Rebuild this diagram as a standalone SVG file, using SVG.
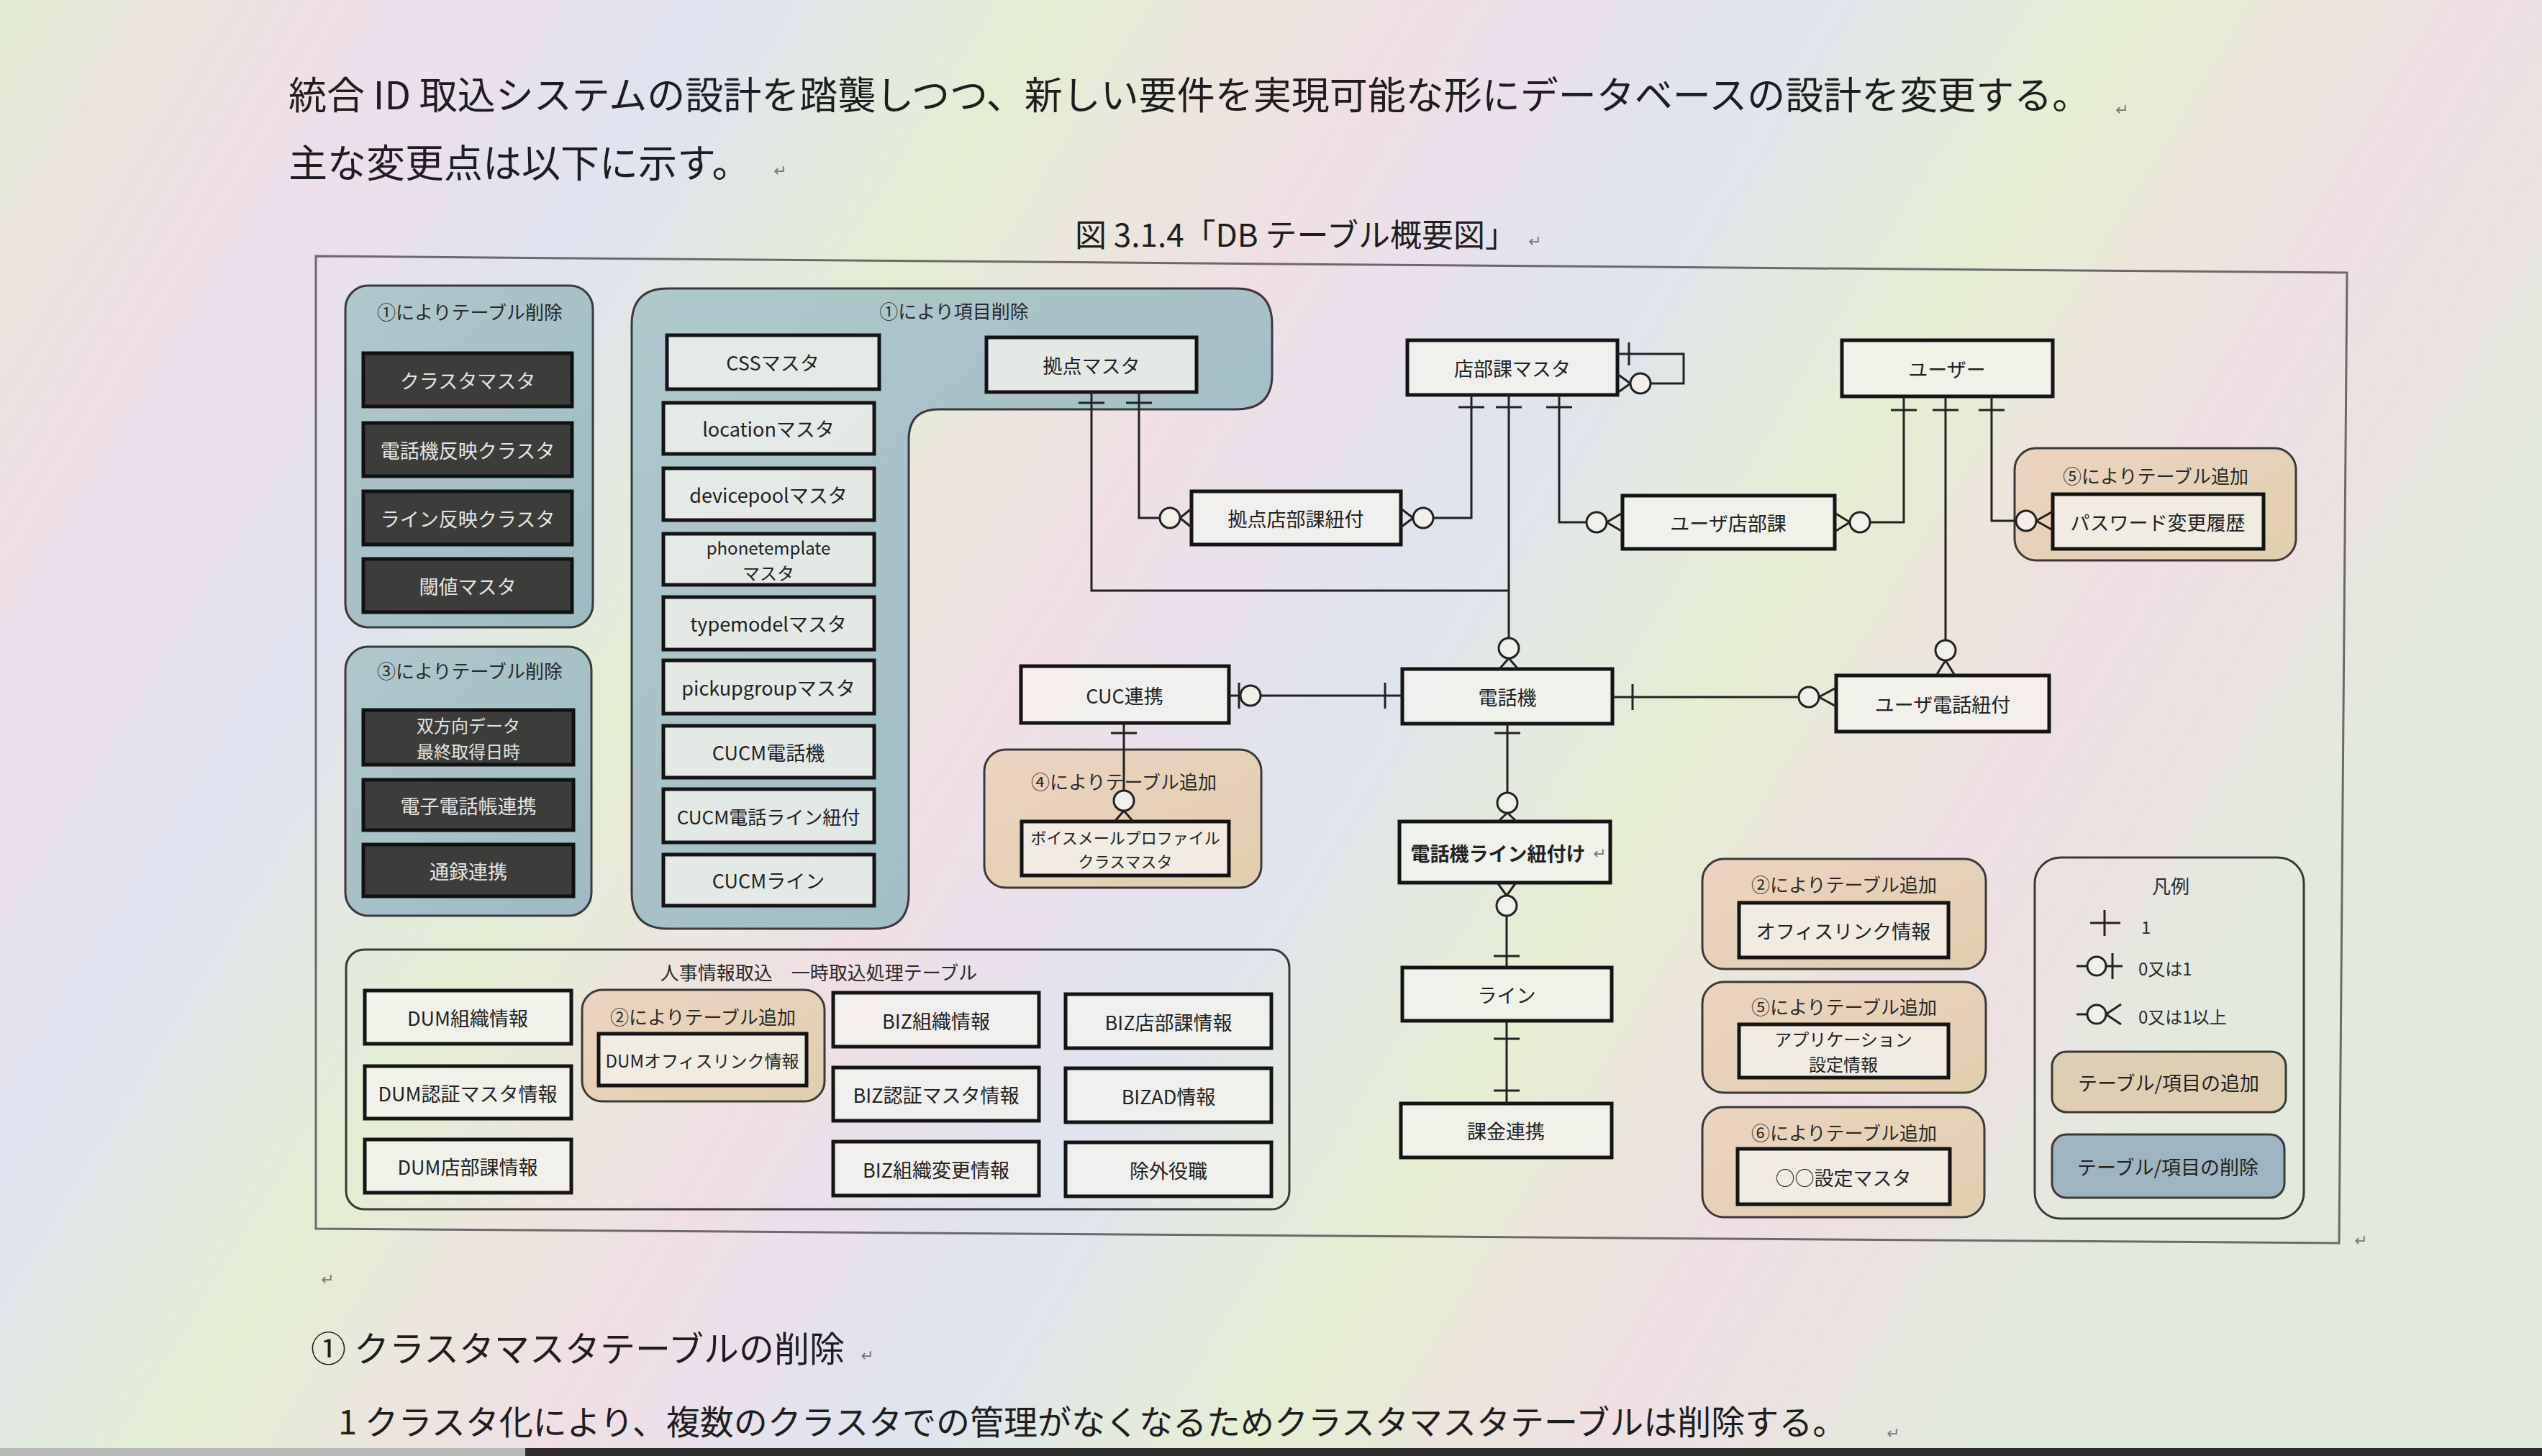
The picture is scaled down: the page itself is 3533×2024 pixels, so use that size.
<svg xmlns="http://www.w3.org/2000/svg" width="3533" height="2024" viewBox="0 0 3533 2024">
<defs>
<linearGradient id="bg" x1="0" y1="0" x2="1" y2="0.35">
<stop offset="0" stop-color="#e2ebd2"/><stop offset="0.12" stop-color="#efdfe6"/><stop offset="0.25" stop-color="#e0e3f0"/><stop offset="0.37" stop-color="#e4eed3"/><stop offset="0.5" stop-color="#f0dfe5"/><stop offset="0.62" stop-color="#dfe4ef"/><stop offset="0.75" stop-color="#e6eed2"/><stop offset="0.87" stop-color="#efdfe4"/><stop offset="1" stop-color="#e2eadc"/>
</linearGradient>
<linearGradient id="gDel" x1="0" y1="0" x2="1" y2="1"><stop offset="0" stop-color="#afc8cc"/><stop offset="1" stop-color="#9ebac2"/></linearGradient>
<linearGradient id="gAdd" x1="0" y1="0" x2="1" y2="1"><stop offset="0" stop-color="#ecd4c0"/><stop offset="1" stop-color="#e0cfae"/></linearGradient>
<style>
.t{font-family:"Noto Sans CJK JP","Noto Sans",sans-serif;font-size:27px;fill:#222;text-anchor:middle;dominant-baseline:central}
.t2{font-size:24px}
.gt{font-family:"Noto Sans CJK JP","Noto Sans",sans-serif;font-size:26px;fill:#2a2a2a;text-anchor:middle;dominant-baseline:central}
.lg{font-size:24px;text-anchor:start}
.w{fill:#e4e4e2}
.b{font-weight:bold}
.doc{font-family:"Noto Sans CJK JP","Noto Sans",sans-serif;fill:#1e1e1e}
.ret{font-family:"DejaVu Sans",sans-serif;font-size:22px;fill:#777}
.tbl{fill:#f2f2ed;fill-opacity:0.8;stroke:#141414;stroke-width:5}
.del{fill:#3c3d3b;stroke:#111;stroke-width:5}
.gdel{fill:url(#gDel);stroke:#3a3a3a;stroke-width:3}
.gadd{fill:url(#gAdd);stroke:#3a3a3a;stroke-width:3}
.gnone{fill:none;stroke:#3a3a3a;stroke-width:3}
.ln{stroke:#222;stroke-width:3;fill:none}
.c{fill:#f0efea;stroke:#222;stroke-width:3}
</style>
</defs>
<rect x="0" y="0" width="3533" height="2024" fill="url(#bg)"/>
<rect x="0" y="2013" width="730" height="11" fill="#b8b8b8"/>
<rect x="730" y="2013" width="2803" height="11" fill="#2e2e2e"/>

<!-- document text -->
<text class="doc" x="401" y="152" font-size="53">統合 ID 取込システムの設計を踏襲しつつ、新しい要件を実現可能な形にデータベースの設計を変更する。</text>
<text class="ret" x="2940" y="160">↵</text>
<text class="doc" x="401" y="247" font-size="54">主な変更点は以下に示す。</text>
<text class="ret" x="1075" y="245">↵</text>
<text class="doc" x="1494" y="343" font-size="44">図 3.1.4「DB テーブル概要図」</text>
<text class="ret" x="2124" y="343">↵</text>

<!-- frame -->
<polygon points="439,356 3262,379 3251,1728 439,1708" fill="none" stroke="#6a6a6a" stroke-width="3"/>
<text class="ret" x="3272" y="1732">↵</text>
<text class="ret" x="446" y="1786">↵</text>

<!-- deletion group 1 -->
<g id="grp-del1">
<rect class="gdel" x="480" y="397" width="344" height="475" rx="32"/>
<text class="gt" x="653" y="432">①によりテーブル削除</text>
</g>
<g id="n-cluster"><rect class="del" x="505" y="491" width="290" height="74"/><text class="t w" x="650" y="528">クラスタマスタ</text></g>
<g id="n-phonecluster"><rect class="del" x="505" y="588" width="290" height="74"/><text class="t w" x="650" y="625">電話機反映クラスタ</text></g>
<g id="n-linecluster"><rect class="del" x="505" y="683" width="290" height="74"/><text class="t w" x="650" y="720">ライン反映クラスタ</text></g>
<g id="n-threshold"><rect class="del" x="505" y="777" width="290" height="74"/><text class="t w" x="650" y="814">閾値マスタ</text></g>

<!-- deletion group 3 -->
<g id="grp-del3">
<rect class="gdel" x="480" y="899" width="342" height="374" rx="32"/>
<text class="gt" x="653" y="931">③によりテーブル削除</text>
</g>
<g id="n-bidir"><rect class="del" x="505" y="987" width="292" height="76"/><text class="t t2 w"><tspan x="651" y="1007">双方向データ</tspan><tspan x="651" y="1043">最終取得日時</tspan></text></g>
<g id="n-ephonebook"><rect class="del" x="505" y="1084" width="292" height="70"/><text class="t w" x="651" y="1119">電子電話帳連携</text></g>
<g id="n-recording"><rect class="del" x="505" y="1174" width="292" height="72"/><text class="t w" x="651" y="1210">通録連携</text></g>

<!-- item deletion group -->
<g id="grp-itemdel">
<path class="gdel" d="M928,401 H1718 Q1768,401 1768,451 V521 Q1768,569 1718,569 H1305 Q1263,569 1263,611 V1243 Q1263,1291 1215,1291 H928 Q878,1291 878,1241 V451 Q878,401 928,401 Z"/>
<text class="gt" x="1326" y="431">①により項目削除</text>
</g>
<g id="n-css"><rect class="tbl" x="927" y="466" width="295" height="75"/><text class="t" x="1074" y="503">CSSマスタ</text></g>
<g id="n-location"><rect class="tbl" x="922" y="560" width="293" height="71"/><text class="t" x="1068" y="595">locationマスタ</text></g>
<g id="n-devicepool"><rect class="tbl" x="922" y="651" width="293" height="72"/><text class="t" x="1068" y="687">devicepoolマスタ</text></g>
<g id="n-phonetemplate"><rect class="tbl" x="922" y="742" width="293" height="71"/><text class="t t2"><tspan x="1068" y="760">phonetemplate</tspan><tspan x="1068" y="795">マスタ</tspan></text></g>
<g id="n-typemodel"><rect class="tbl" x="922" y="830" width="293" height="73"/><text class="t" x="1068" y="866">typemodelマスタ</text></g>
<g id="n-pickupgroup"><rect class="tbl" x="922" y="918" width="293" height="74"/><text class="t" x="1068" y="955">pickupgroupマスタ</text></g>
<g id="n-cucmphone"><rect class="tbl" x="922" y="1009" width="293" height="72"/><text class="t" x="1068" y="1045">CUCM電話機</text></g>
<g id="n-cucmphoneline"><rect class="tbl" x="922" y="1097" width="293" height="74"/><text class="t" x="1068" y="1134" style="font-size:26px">CUCM電話ライン紐付</text></g>
<g id="n-cucmline"><rect class="tbl" x="922" y="1188" width="293" height="71"/><text class="t" x="1068" y="1223">CUCMライン</text></g>
<g id="n-kyoten"><rect class="tbl" x="1371" y="469" width="292" height="76"/><text class="t" x="1517" y="507">拠点マスタ</text></g>

<!-- addition groups -->
<g id="grp-add5a">
<rect class="gadd" x="2800" y="623" width="391" height="156" rx="30"/>
<text class="gt" x="2996" y="660">⑤によりテーブル追加</text>
</g>
<g id="grp-add4">
<rect class="gadd" x="1368" y="1042" width="385" height="192" rx="30"/>
<text class="gt" x="1562" y="1085">④によりテーブル追加</text>
</g>

<!-- ER nodes -->
<g id="n-tenbuka"><rect class="tbl" x="1956" y="473" width="292" height="76"/><text class="t" x="2102" y="511">店部課マスタ</text></g>
<g id="n-user"><rect class="tbl" x="2560" y="473" width="293" height="78"/><text class="t" x="2706" y="512">ユーザー</text></g>
<g id="n-kyotenlink"><rect class="tbl" x="1656" y="683" width="291" height="74"/><text class="t" x="1801" y="720">拠点店部課紐付</text></g>
<g id="n-usertenbuka"><rect class="tbl" x="2255" y="689" width="295" height="74"/><text class="t" x="2402" y="726">ユーザ店部課</text></g>
<g id="n-pwhistory"><rect class="tbl" x="2853" y="687" width="293" height="76"/><text class="t" x="2999" y="725">パスワード変更履歴</text></g>
<g id="n-cuc"><rect class="tbl" x="1419" y="926" width="289" height="79"/><text class="t" x="1563" y="966">CUC連携</text></g>
<g id="n-phone"><rect class="tbl" x="1949" y="930" width="292" height="76"/><text class="t" x="2095" y="968">電話機</text></g>
<g id="n-userphone"><rect class="tbl" x="2552" y="939" width="296" height="78"/><text class="t" x="2700" y="978">ユーザ電話紐付</text></g>
<g id="n-voicemail"><rect class="tbl" x="1420" y="1142" width="288" height="75"/><text class="t" style="font-size:22px"><tspan x="1564" y="1163">ボイスメールプロファイル</tspan><tspan x="1564" y="1196">クラスマスタ</tspan></text></g>
<g id="n-phoneline"><rect class="tbl" x="1945" y="1142" width="293" height="85"/><text class="t b" x="2082" y="1185">電話機ライン紐付け</text><text class="ret" x="2214" y="1194">↵</text></g>
<g id="n-line"><rect class="tbl" x="1949" y="1345" width="291" height="74"/><text class="t" x="2094" y="1382">ライン</text></g>
<g id="n-billing"><rect class="tbl" x="1947" y="1534" width="293" height="75"/><text class="t" x="2093" y="1571">課金連携</text></g>

<!-- right addition groups -->
<g id="grp-add2">
<rect class="gadd" x="2366" y="1194" width="394" height="153" rx="30"/>
<text class="gt" x="2563" y="1228">②によりテーブル追加</text>
</g>
<g id="n-officelink"><rect class="tbl" x="2417" y="1255" width="291" height="76"/><text class="t" x="2562" y="1293">オフィスリンク情報</text></g>
<g id="grp-add5b">
<rect class="gadd" x="2366" y="1365" width="394" height="154" rx="30"/>
<text class="gt" x="2563" y="1398">⑤によりテーブル追加</text>
</g>
<g id="n-appsetting"><rect class="tbl" x="2417" y="1424" width="291" height="74"/><text class="t t2"><tspan x="2562" y="1443">アプリケーション</tspan><tspan x="2562" y="1478">設定情報</tspan></text></g>
<g id="grp-add6">
<rect class="gadd" x="2366" y="1539" width="392" height="153" rx="30"/>
<text class="gt" x="2563" y="1573">⑥によりテーブル追加</text>
</g>
<g id="n-oosetting"><rect class="tbl" x="2415" y="1597" width="295" height="77"/><text class="t" x="2562" y="1636">○○設定マスタ</text></g>

<!-- legend -->
<g id="legend">
<rect class="gnone" x="2828" y="1192" width="374" height="502" rx="36"/>
<text class="gt" x="3017" y="1230">凡例</text>
<path class="ln" d="M2925,1265 V1301 M2905,1283 H2947"/>
<text class="gt lg" x="2976" y="1287">1</text>
<path class="ln" d="M2886,1343 H2950 M2936,1325 V1361"/>
<circle class="c" cx="2914" cy="1343" r="13"/>
<text class="gt lg" x="2972" y="1345">0又は1</text>
<path class="ln" d="M2886,1410 H2901 M2927,1410 L2948,1396 M2927,1410 L2948,1424"/>
<circle class="c" cx="2914" cy="1410" r="13"/>
<text class="gt lg" x="2972" y="1412">0又は1以上</text>
<rect x="2852" y="1462" width="325" height="84" rx="20" fill="#dfcfb2" stroke="#3a3a3a" stroke-width="3"/>
<text class="t" x="3014" y="1504">テーブル/項目の追加</text>
<rect x="2852" y="1577" width="323" height="88" rx="20" fill="#9fb4c1" stroke="#3a3a3a" stroke-width="3"/>
<text class="t" x="3013" y="1621">テーブル/項目の削除</text>
</g>

<!-- HR temp tables -->
<g id="grp-hr">
<rect class="gnone" x="481" y="1320" width="1311" height="361" rx="25"/>
<text class="gt" x="1138" y="1350">人事情報取込　一時取込処理テーブル</text>
</g>
<g id="n-dumorg"><rect class="tbl" x="507" y="1377" width="287" height="74"/><text class="t" x="650" y="1414">DUM組織情報</text></g>
<g id="n-dumauth"><rect class="tbl" x="507" y="1482" width="287" height="73"/><text class="t" x="650" y="1519">DUM認証マスタ情報</text></g>
<g id="n-dumtenbuka"><rect class="tbl" x="507" y="1584" width="287" height="74"/><text class="t" x="650" y="1621">DUM店部課情報</text></g>
<g id="grp-add2b">
<rect class="gadd" x="809" y="1376" width="337" height="155" rx="28"/>
<text class="gt" x="977" y="1412">②によりテーブル追加</text>
</g>
<g id="n-dumoffice"><rect class="tbl" x="832" y="1437" width="289" height="72"/><text class="t t2" x="976" y="1473">DUMオフィスリンク情報</text></g>
<g id="n-bizorg"><rect class="tbl" x="1158" y="1380" width="286" height="75"/><text class="t" x="1301" y="1418">BIZ組織情報</text></g>
<g id="n-bizauth"><rect class="tbl" x="1158" y="1484" width="286" height="74"/><text class="t" x="1301" y="1521">BIZ認証マスタ情報</text></g>
<g id="n-bizorgchg"><rect class="tbl" x="1158" y="1587" width="286" height="75"/><text class="t" x="1301" y="1625">BIZ組織変更情報</text></g>
<g id="n-biztenbuka"><rect class="tbl" x="1481" y="1382" width="286" height="75"/><text class="t" x="1624" y="1420">BIZ店部課情報</text></g>
<g id="n-bizad"><rect class="tbl" x="1481" y="1485" width="286" height="75"/><text class="t" x="1624" y="1523">BIZAD情報</text></g>
<g id="n-exclude"><rect class="tbl" x="1481" y="1588" width="286" height="75"/><text class="t" x="1624" y="1626">除外役職</text></g>

<!-- connectors -->
<g id="connectors">
<path class="ln" d="M1583,545 V720 H1612 M1565,560 H1601 M1640,720 L1656,707 M1640,720 L1656,733"/>
<circle class="c" cx="1626" cy="720" r="14"/>
<path class="ln" d="M1517,545 V821 H2097 M1499,560 H1535"/>
<path class="ln" d="M2248,492 H2340 V533 H2294 M2264,476 V508 M2266,533 L2248,520 M2266,533 L2248,546"/>
<circle class="c" cx="2280" cy="533" r="14"/>
<path class="ln" d="M2045,549 V720 H1992 M2027,566 H2063 M1964,720 L1947,707 M1964,720 L1947,733"/>
<circle class="c" cx="1978" cy="720" r="14"/>
<path class="ln" d="M2097,549 V887 M2079,566 H2115 M2097,915 L2084,930 M2097,915 L2110,930"/>
<circle class="c" cx="2097" cy="901" r="14"/>
<path class="ln" d="M2167,549 V726 H2205 M2149,566 H2185 M2233,726 L2255,713 M2233,726 L2255,739"/>
<circle class="c" cx="2219" cy="726" r="14"/>
<path class="ln" d="M2646,551 V726 H2599 M2628,570 H2664 M2571,726 L2550,713 M2571,726 L2550,739"/>
<circle class="c" cx="2585" cy="726" r="14"/>
<path class="ln" d="M2704,551 V890 M2686,570 H2722 M2704,918 L2691,939 M2704,918 L2717,939"/>
<circle class="c" cx="2704" cy="904" r="14"/>
<path class="ln" d="M2768,551 V724 H2802 M2750,570 H2786 M2830,724 L2853,711 M2830,724 L2853,737"/>
<circle class="c" cx="2816" cy="724" r="14"/>
<path class="ln" d="M1708,967 H1949 M1722,949 V985 M1925,949 V985"/>
<circle class="c" cx="1738" cy="967" r="14"/>
<path class="ln" d="M2241,969 H2500 M2269,951 V987 M2528,969 L2552,956 M2528,969 L2552,982"/>
<circle class="c" cx="2514" cy="969" r="14"/>
<path class="ln" d="M1562,1005 V1099 M1544,1019 H1580 M1562,1127 L1549,1142 M1562,1127 L1575,1142"/>
<circle class="c" cx="1562" cy="1113" r="14"/>
<path class="ln" d="M2095,1006 V1102 M2077,1019 H2113 M2095,1130 L2082,1142 M2095,1130 L2108,1142"/>
<circle class="c" cx="2095" cy="1116" r="14"/>
<path class="ln" d="M2094,1245 L2081,1227 M2094,1245 L2107,1227 M2094,1273 V1345 M2076,1329 H2112"/>
<circle class="c" cx="2094" cy="1259" r="14"/>
<path class="ln" d="M2094,1419 V1534 M2076,1444 H2112 M2076,1516 H2112"/>
</g>

<!-- bottom text -->
<text class="doc" x="432" y="1893" font-size="49">① クラスタマスタテーブルの削除</text>
<text class="ret" x="1196" y="1892">↵</text>
<text class="doc" x="470" y="1994" font-size="47">1 クラスタ化により、複数のクラスタでの管理がなくなるためクラスタマスタテーブルは削除する。</text>
<text class="ret" x="2622" y="2000">↵</text>
</svg>
